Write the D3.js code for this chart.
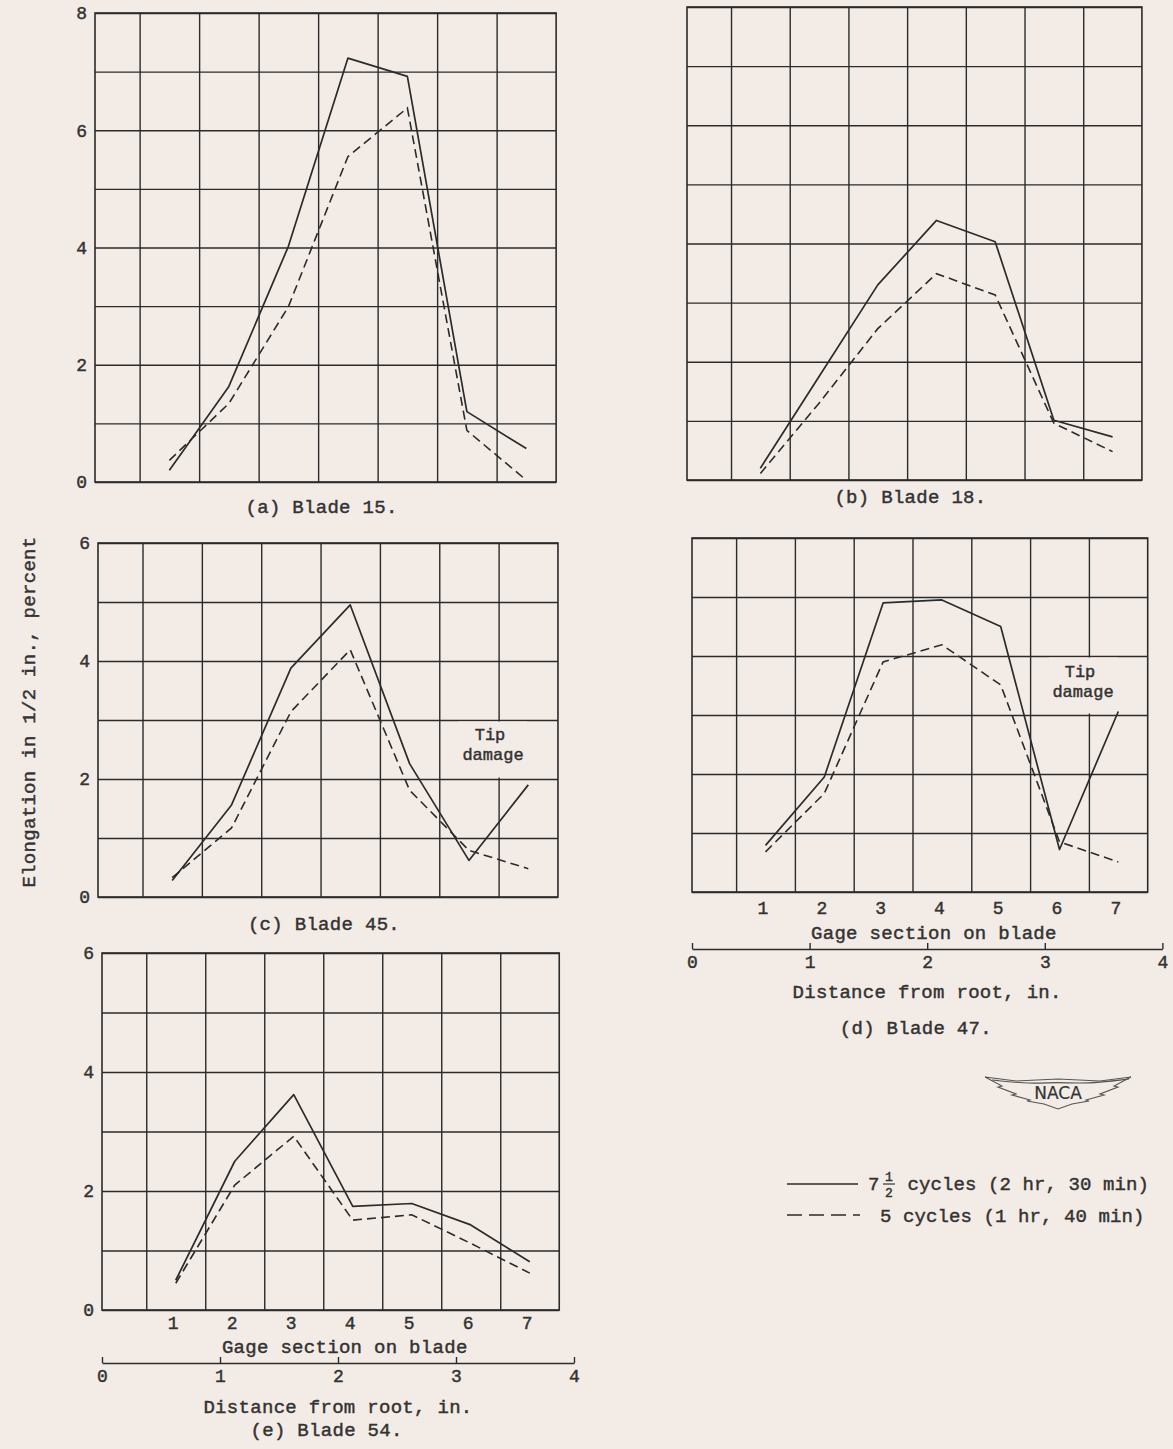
<!DOCTYPE html>
<html>
<head>
<meta charset="utf-8">
<script src="https://cdn.jsdelivr.net/npm/d3@7"></script>
<style>
  html, body { margin: 0; padding: 0; background: #f3ece6; }
  svg { display: block; }
  text { font-family: "Liberation Mono", "Courier New", monospace; fill: #333; stroke: #333; stroke-width: 0.45px; }
</style>
</head>
<body>
<svg id="chart" width="1173" height="1449"></svg>
<script>
// ---------------- DATA ----------------
const gages = [1, 2, 3, 4, 5, 6, 7];                 // gage sections on blade
const gageInches = [0.625, 3.625];                    // distance from root of gage 1 and gage 7, in.
const distanceTicks = [0, 1, 2, 3, 4];                // distance from root, in.
const gridInches = [0.375, 0.875, 1.375, 1.875, 2.375, 2.875, 3.375];
const plotMaxInches = 3.875;

const blade15Solid  = [0.20, 1.63, 4.02, 7.23, 6.92, 1.20, 0.57];
const blade15Dashed = [0.37, 1.34, 2.99, 5.55, 6.38, 0.88, 0.03];
const blade18Solid  = [0.20, 1.75, 3.30, 4.39, 4.03, 1.01, 0.73];
const blade18Dashed = [0.11, 1.30, 2.56, 3.49, 3.13, 0.96, 0.48];
const blade45Solid  = [0.28, 1.56, 3.88, 4.95, 2.26, 0.62, 1.90];
const blade45Dashed = [0.33, 1.17, 3.14, 4.19, 1.81, 0.79, 0.48];
const blade47Solid  = [0.79, 1.95, 4.90, 4.95, 4.50, 0.72, 3.06];
const blade47Dashed = [0.68, 1.67, 3.90, 4.19, 3.51, 0.85, 0.51];
const blade54Solid  = [0.50, 2.50, 3.62, 1.74, 1.79, 1.43, 0.81];
const blade54Dashed = [0.45, 2.10, 2.92, 1.51, 1.60, 1.12, 0.62];

const captions = ["(a) Blade 15.", "(b) Blade 18.", "(c) Blade 45.", "(d) Blade 47.", "(e) Blade 54."];
const yTicksTop = [0, 2, 4, 6, 8];
const yTicksLow = [0, 2, 4, 6];
const yTitle = "Elongation in 1/2 in., percent";
const gageTitle = "Gage section on blade";
const distTitle = "Distance from root, in.";
const tipNote = ["Tip", "damage"];
const legendSolid = ["7", "1", "2", " cycles (2 hr, 30 min)"];
const legendDashed = "5 cycles (1 hr, 40 min)";

// ---------------- LAYOUT ----------------
const panels = [
  { solid: blade15Solid, dashed: blade15Dashed, caption: captions[0], left: 95,  top: 13,  bottom: 482, ppi: 119.0, ymax: 8, yTicks: yTicksTop, capY: 513 },
  { solid: blade18Solid, dashed: blade18Dashed, caption: captions[1], left: 687, top: 7,   bottom: 480, ppi: 117.4, ymax: 8, yTicks: null,      capY: 503 },
  { solid: blade45Solid, dashed: blade45Dashed, caption: captions[2], left: 98,  top: 543, bottom: 897, ppi: 118.7, ymax: 6, yTicks: yTicksLow, capY: 930,
    tip: { cx: 493, y1: 740, y2: 760, vFrom: 3, vTo: 2 } },
  { solid: blade47Solid, dashed: blade47Dashed, caption: captions[3], left: 692, top: 538, bottom: 892, ppi: 117.6, ymax: 6, yTicks: null,      capY: 1034,
    tip: { cx: 1083, y1: 677, y2: 697, vFrom: 4, vTo: 3 },
    gage: { labelY: 914, titleY: 939, axisY: 949, distTitleY: 998 } },
  { solid: blade54Solid, dashed: blade54Dashed, caption: captions[4], left: 102, top: 953, bottom: 1310, ppi: 118.0, ymax: 6, yTicks: yTicksLow, capY: 1436,
    gage: { labelY: 1329, titleY: 1353, axisY: 1363, distTitleY: 1413 } }
];

const ink = "#2b2b2b";
const paper = "#f3ece6";
const svg = d3.select("#chart");

panels.forEach(p => {
  const g = svg.append("g");
  const x = d3.scaleLinear().domain([0, 4]).range([p.left, p.left + 4 * p.ppi]);
  const right = x(plotMaxInches);
  const y = d3.scaleLinear().domain([0, p.ymax]).range([p.bottom, p.top]);
  const gx = d3.scaleLinear().domain([1, 7]).range(gageInches);  // gage -> inches
  const w = right - p.left, h = p.bottom - p.top;

  // horizontal grid
  const hg = g.append("g").attr("transform", `translate(${p.left},0)`)
    .call(d3.axisLeft(y).tickValues(d3.range(0, p.ymax + 1)).tickSize(-w).tickFormat(""));
  hg.select(".domain").remove();
  hg.selectAll("line").attr("stroke", ink).attr("stroke-width", 1.4);

  // vertical grid
  const vg = g.append("g").attr("transform", `translate(0,${p.bottom})`)
    .call(d3.axisBottom(x).tickValues(gridInches).tickSize(-h).tickFormat(""));
  vg.select(".domain").remove();
  vg.selectAll("line").attr("stroke", ink).attr("stroke-width", 1.4);

  // frame
  g.append("rect").attr("x", p.left).attr("y", p.top).attr("width", w).attr("height", h)
    .attr("fill", "none").attr("stroke", ink).attr("stroke-width", 1.6);

  // tip damage note
  if (p.tip) {
    g.append("rect").attr("x", p.tip.cx - 34).attr("y", y(p.tip.vFrom) + 1.5)
      .attr("width", 68).attr("height", y(p.tip.vTo) - y(p.tip.vFrom) - 3)
      .attr("fill", paper);
    g.append("text").attr("x", p.tip.cx - 3).attr("y", p.tip.y1).attr("text-anchor", "middle")
      .attr("font-size", 17).text(tipNote[0]);
    g.append("text").attr("x", p.tip.cx).attr("y", p.tip.y2).attr("text-anchor", "middle")
      .attr("font-size", 17).text(tipNote[1]);
  }

  // y tick labels
  if (p.yTicks) {
    const ya = g.append("g").attr("transform", `translate(${p.left},0)`)
      .call(d3.axisLeft(y).tickValues(p.yTicks).tickSize(0).tickPadding(8).tickFormat(d3.format("d")));
    ya.select(".domain").remove();
    ya.selectAll("text").attr("font-size", 18).attr("font-family", "Liberation Mono, monospace").attr("fill", "#333");
  }

  // data lines
  const line = d3.line().x((d, i) => x(gx(gages[i]))).y(d => y(d));
  g.append("path").datum(p.solid).attr("d", line).attr("fill", "none")
    .attr("stroke", ink).attr("stroke-width", 1.7).attr("stroke-linejoin", "round");
  g.append("path").datum(p.dashed).attr("d", line).attr("fill", "none")
    .attr("stroke", ink).attr("stroke-width", 1.6).attr("stroke-dasharray", "9,5");

  // gage & distance axes
  if (p.gage) {
    const gs = d3.scalePoint().domain(gages).range([x(gx(1)), x(gx(7))]);
    const ga = g.append("g").attr("transform", `translate(-3,${p.gage.labelY})`)
      .call(d3.axisBottom(gs).tickSize(0).tickPadding(0));
    ga.select(".domain").remove();
    ga.selectAll("text").attr("font-size", 18).attr("dy", 0).attr("font-family", "Liberation Mono, monospace").attr("fill", "#333");

    g.append("text").attr("x", x(gx(4)) - 8).attr("y", p.gage.titleY).attr("text-anchor", "middle")
      .attr("font-size", 19).attr("letter-spacing", 0.3).text(gageTitle);

    const da = g.append("g").attr("transform", `translate(0,${p.gage.axisY})`)
      .call(d3.axisBottom(x).tickValues(distanceTicks).tickSizeInner(-6).tickSizeOuter(0).tickPadding(6).tickFormat(d3.format("d")));
    da.select(".domain").attr("stroke", ink).attr("stroke-width", 1.4);
    da.selectAll("line").attr("stroke", ink).attr("stroke-width", 1.4);
    da.selectAll("text").attr("font-size", 18).attr("font-family", "Liberation Mono, monospace").attr("fill", "#333");

    g.append("text").attr("x", x(2)).attr("y", p.gage.distTitleY).attr("text-anchor", "middle")
      .attr("font-size", 19).attr("letter-spacing", 0.3).text(distTitle);
  }

  // caption
  g.append("text").attr("x", (p.left + right) / 2 - 4).attr("y", p.capY).attr("text-anchor", "middle")
    .attr("font-size", 19).attr("letter-spacing", 0.3).text(p.caption);
});

// y axis title
svg.append("text").attr("transform", "translate(35,712) rotate(-90)").attr("text-anchor", "middle")
  .attr("font-size", 19).attr("letter-spacing", 0.3).text(yTitle);

// legend
const lg = svg.append("g");
lg.append("line").attr("x1", 787).attr("x2", 858).attr("y1", 1184).attr("y2", 1184)
  .attr("stroke", ink).attr("stroke-width", 1.7);
lg.append("line").attr("x1", 787).attr("x2", 860).attr("y1", 1215).attr("y2", 1215)
  .attr("stroke", ink).attr("stroke-width", 1.7).attr("stroke-dasharray", "15,7");
lg.append("text").attr("x", 868).attr("y", 1190).attr("font-size", 19).text(legendSolid[0]);
lg.append("text").attr("x", 889).attr("y", 1181).attr("text-anchor", "middle").attr("font-size", 13).text(legendSolid[1]);
lg.append("line").attr("x1", 883).attr("x2", 895).attr("y1", 1184).attr("y2", 1184).attr("stroke", "#333").attr("stroke-width", 1.2);
lg.append("text").attr("x", 889).attr("y", 1197).attr("text-anchor", "middle").attr("font-size", 13).text(legendSolid[2]);
lg.append("text").attr("x", 896).attr("y", 1190).attr("font-size", 19).attr("letter-spacing", 0.1).style("white-space", "pre").text(legendSolid[3]);
lg.append("text").attr("x", 880).attr("y", 1222).attr("font-size", 19).attr("letter-spacing", 0.1).text(legendDashed);

// NACA logo
const logo = svg.append("g").attr("fill", "none").attr("stroke", "#555").attr("stroke-width", 1.1);
const wingL = [[985,1077],[1002,1086],[998,1087],[1016,1094],[1012,1095],[1030,1100],[1027,1101],[1044,1104],[1058,1109]];
const wingR = wingL.map(([a, b]) => [2116 - a, b]).reverse();
const topEdge = [[1136,1077],[1100,1081],[1058,1079],[1016,1081],[985,1077]];
logo.append("path").attr("d", d3.line()([...wingL, ...wingR.slice(1), ...topEdge.slice(1)]));
logo.append("path").attr("d", d3.line().curve(d3.curveBasis)([[992,1080],[1030,1084],[1058,1082],[1086,1084],[1129,1079]]));
svg.append("text").attr("x", 1058).attr("y", 1099).attr("text-anchor", "middle")
  .style("font-family", "'DejaVu Sans', sans-serif").style("stroke-width", "0.2px").attr("font-size", 17).text("NACA");
</script>
</body>
</html>
